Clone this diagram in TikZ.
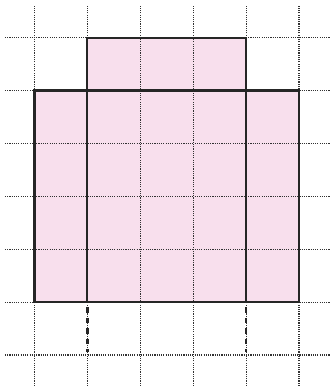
\documentclass[tikz,border=0pt]{standalone}
\definecolor{pinkfill}{RGB}{248,223,237}
\definecolor{gridgray}{RGB}{50,50,50}
\tikzset{
  gridline/.style={draw=gridgray, line width=0.6pt, dash pattern=on 0.6pt off 0.6pt},
  outline/.style={draw=black!85, line width=1.1pt},
  cutline/.style={draw=black!85, line width=1.3pt, dash pattern=on 3pt off 2.6pt}
}
\begin{document}
\begin{tikzpicture}
\useasboundingbox (-0.652,-0.586) rectangle (5.605,6.711);
% pink region
\fill[pinkfill] (0,1) -- (5,1) -- (5,5) -- (4,5) -- (4,6) -- (1,6) -- (1,5) -- (0,5) -- cycle;
% dotted grid
\foreach \x in {0,...,5} \draw[gridline] (\x,-0.586) -- (\x,6.616);
\foreach \y in {0,...,6} \draw[gridline] (-0.558,\y) -- (5.586,\y);
% solid outline and folds
\draw[outline] (0,1) -- (5,1) -- (5,5) -- (4,5) -- (4,6) -- (1,6) -- (1,5) -- (0,5) -- cycle;
\draw[outline] (0,5) -- (5,5);
\draw[outline] (1,6) -- (1,1);
\draw[outline] (4,6) -- (4,1);
% dashed extensions
\draw[cutline] (1,0.9) -- (1,0.05);
\draw[cutline] (4,0.9) -- (4,0.05);
\end{tikzpicture}
\end{document}
